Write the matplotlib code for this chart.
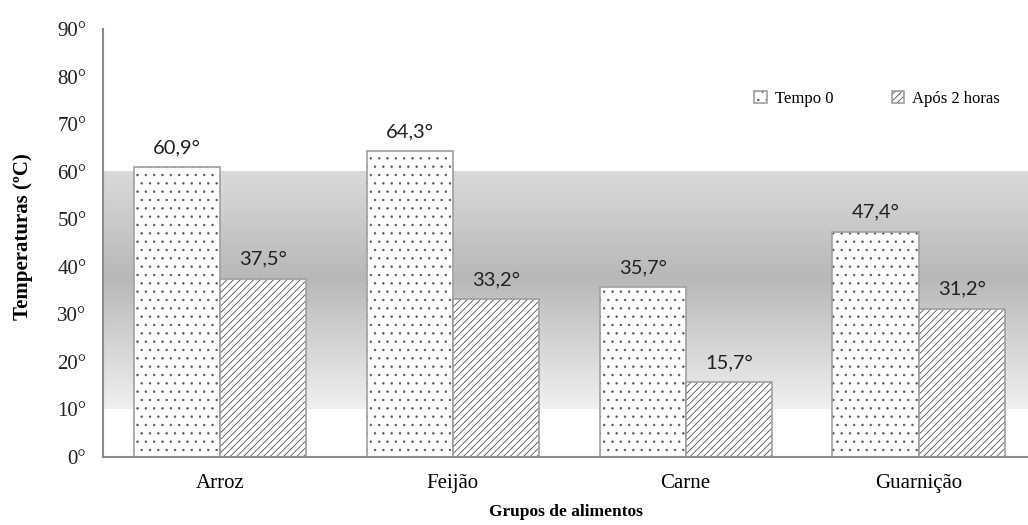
import numpy as np
import matplotlib
matplotlib.use("Agg")
import matplotlib.pyplot as plt
from matplotlib.colors import LinearSegmentedColormap

categories = ["Arroz", "Feijão", "Carne", "Guarnição"]
tempo0 = [60.9, 64.3, 35.7, 47.4]
apos2h = [37.5, 33.2, 15.7, 31.2]
series_names = ["Tempo 0", "Após 2 horas"]
yticks = [0, 10, 20, 30, 40, 50, 60, 70, 80, 90]

plt.rcParams['font.family'] = ['Liberation Serif', 'DejaVu Serif']
plt.rcParams['hatch.linewidth'] = 0.5

fig = plt.figure(figsize=(10.28, 5.25), dpi=100)
ax = fig.add_axes([103/1028, (525-457)/525, 1 - 103/1028, (457-29)/525])

# gradient band between 10 and 60
cmap = LinearSegmentedColormap.from_list("band", [(0.0, "#f0f0f0"), (0.55, "#b8b8b8"), (1.0, "#dadada")])
grad = np.linspace(0, 1, 256).reshape(-1, 1)
ax.imshow(grad, extent=(-0.6, 3.6, 10, 60), origin="lower", aspect="auto", cmap=cmap, zorder=0)

x = np.arange(len(categories))
w = 0.37
b1 = ax.bar(x - w/2, tempo0, w, color="white", edgecolor="#a0a0a0", hatch="..", linewidth=1.2, zorder=2, label=series_names[0])
b2 = ax.bar(x + w/2, apos2h, w, color="white", edgecolor="#a0a0a0", hatch="/////", linewidth=1.2, zorder=2, label=series_names[1])
for r in b1:
    r._hatch_color = (0.35, 0.35, 0.35, 1.0)
for r in b2:
    r._hatch_color = (0.2, 0.2, 0.2, 1.0)

for bars, vals in ((b1, tempo0), (b2, apos2h)):
    for r, v in zip(bars, vals):
        ax.annotate(f"{v:.1f}°".replace(".", ","), (r.get_x() + r.get_width()/2, v),
                    xytext=(0, 8), textcoords="offset points", ha="center", va="bottom",
                    fontsize=14.5, family=["Lato", "DejaVu Sans"], color="#222222")

ax.set_xlim(-0.502, 3.47)
ax.set_ylim(0, 90)
ax.set_yticks(yticks)
ax.set_yticklabels([f"{t}°" for t in yticks], fontsize=15, color="#222222")
ax.set_xticks(x)
ax.set_xticklabels(categories, fontsize=15)
ax.tick_params(axis="y", length=0, pad=12)
ax.tick_params(axis="x", length=0, pad=12)
for s in ("top", "right"):
    ax.spines[s].set_visible(False)
for s in ("left", "bottom"):
    ax.spines[s].set_color("#8c8c8c")
    ax.spines[s].set_linewidth(1.5)

ax.set_ylabel("Temperaturas (ºC)", fontsize=15, fontweight="bold")
ax.yaxis.set_label_coords(-0.0757, 0.516)
ax.set_xlabel("Grupos de alimentos", fontsize=12.5, fontweight="bold", labelpad=8)

leg = ax.legend(loc="center right", bbox_to_anchor=(0.97, 0.836), ncol=2, frameon=False, fontsize=12,
                handlelength=0.75, handleheight=0.75, columnspacing=3.5, handletextpad=0.5,
                borderaxespad=0, borderpad=0)

fig.savefig("out.png", dpi=100)
